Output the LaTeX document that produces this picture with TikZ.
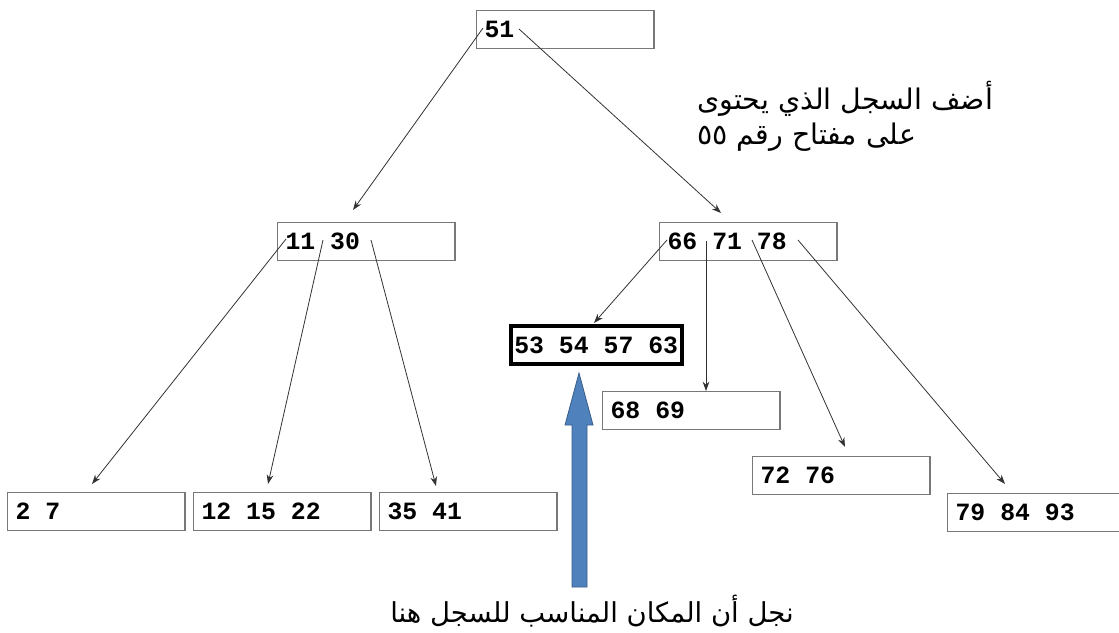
\documentclass[tikz,border=0pt]{standalone}
\usepackage{fontspec}
\setmainfont{Liberation Sans}
\newfontfamily\keyfont{Liberation Mono}
\newfontfamily\arabicfont[Script=Arabic]{DejaVu Sans}
\TeXXeTstate=1
\usetikzlibrary{arrows.meta, positioning, calc}
\definecolor{BoxGray}{RGB}{120,120,120}
\definecolor{LinkGray}{RGB}{50,50,50}
\definecolor{HintBlue}{RGB}{79,129,189}
\definecolor{HintBlueDark}{RGB}{56,93,138}
\tikzset{
  keybox/.style={draw=BoxGray, line width=0.9pt, anchor=north west,
    minimum height=28.5pt, text width=121pt, inner xsep=6pt,
    font=\keyfont\bfseries\fontsize{18.6}{20}\selectfont,
    execute at begin node={\spaceskip=0pt\xspaceskip=0pt}},
  fullbox/.style={keybox, draw=black, line width=3pt, text width=123.25pt, inner xsep=2.5pt},
  ptr/.style={draw=LinkGray, line width=0.6pt, -{Stealth[length=7pt,width=5pt]}},
  note/.style={font=\arabicfont\fontsize{21.3}{26.25}\selectfont, inner sep=0pt}
}

\begin{document}
\begin{tikzpicture}[x=0.75pt, y=-0.75pt]
    \useasboundingbox (0,0) rectangle (1119,632);

    % index nodes
    \node[keybox] (root) at (476,10) {51};
    \node[keybox] (left) at (277,222) {11 30};
    \node[keybox] (right) at (659,222) {66 71 78};

    % leaves
    \node[fullbox] (target) at (509,324) {53 54 57 63};
    \node[keybox] (leafA) at (602,391) {68 69};
    \node[keybox] (leafB) at (752,456) {72 76};
    \node[keybox] (leafC) at (7,492) {2 7};
    \node[keybox] (leafD) at (193,492) {12 15 22};
    \node[keybox] (leafE) at (379,492) {35 41};
    \node[keybox] (leafF) at (947,493) {79 84 93};

    % pointers
    \draw[ptr] ($(root.north west)+(7,18)$) -- ($(left.north west)+(76,-12)$);
    \draw[ptr] ($(root.north west)+(43,19)$) -- ($(right.north west)+(62,-9)$);
    \draw[ptr] ($(left.north west)+(9,17)$) -- ($(leafC.north west)+(85,-8)$);
    \draw[ptr] ($(left.north west)+(46,18)$) -- ($(leafD.north west)+(75,-8)$);
    \draw[ptr] ($(left.north west)+(94,18)$) -- ($(leafE.north west)+(57,-6)$);
    \draw[ptr] ($(right.north west)+(8,18)$) -- ($(target.north west)+(85,-1)$);
    \draw[ptr] ($(right.north west)+(47,19)$) -- ($(leafA.north west)+(104,0)$);
    \draw[ptr] ($(right.north west)+(93,18)$) -- ($(leafB.north west)+(93,-9)$);
    \draw[ptr] ($(right.north west)+(139,18)$) -- ($(leafF.north west)+(58,-9)$);

    % texts
    \node[note, anchor=north west, align=left] (task) at (697,81)
      {\beginR أضف السجل الذي يحتوى\endR\\\beginR على مفتاح رقم ٥٥\endR};
    \node[note, anchor=base, font=\arabicfont\fontsize{20.6}{25}\selectfont] (where) at (592,622)
      {\beginR نجل أن المكان المناسب للسجل هنا\endR};

    % hint arrow
    \filldraw[fill=HintBlue, draw=HintBlueDark, line width=0.6pt]
      (572,587) -- (572,425) -- (565,425) -- (579,373) -- (593,425)
      -- (587,425) -- (587,587) -- cycle;
  \end{tikzpicture}
\end{document}
